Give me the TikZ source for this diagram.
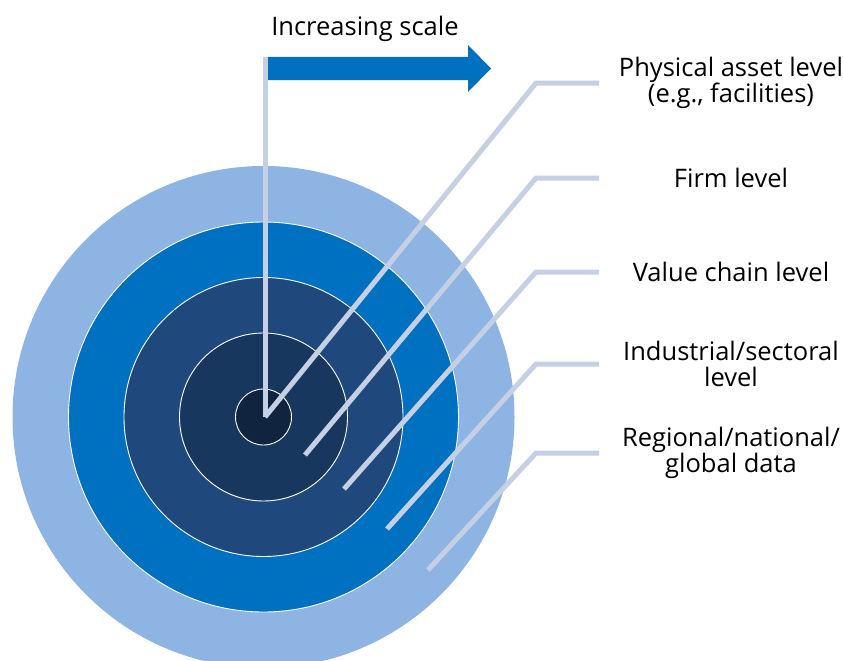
\documentclass[tikz,border=0pt]{standalone}
\usepackage{fontspec}
\setmainfont{Open Sans}
\usetikzlibrary{positioning}

\definecolor{ringA}{RGB}{142,180,227}
\definecolor{ringB}{RGB}{0,112,192}
\definecolor{ringC}{RGB}{31,73,125}
\definecolor{ringD}{RGB}{23,55,94}
\definecolor{ringE}{RGB}{16,36,63}
\definecolor{leadgray}{RGB}{197,208,228}

\begin{document}
\begin{tikzpicture}[x=1pt, y=-1pt]
    \tikzstyle{ring}=[draw=white, line width=0.9pt]
    \tikzstyle{leader}=[draw=leadgray, line width=5pt]
    \tikzstyle{level}=[align=center, inner sep=0pt, font=\fontsize{25.5}{25.5}\selectfont]

    \useasboundingbox (0,0) rectangle (843,661);

    \coordinate (centre) at (263.5,417);
    \coordinate (hub) at (265,417);
    \coordinate (bend) at (536,0);
    \coordinate (stop) at (599,0);

    % the target, outermost ring first
    \fill[ringA] (centre) circle[radius=251];
    \filldraw[ring, fill=ringB] (centre) circle[radius=195];
    \filldraw[ring, fill=ringC] (centre) circle[radius=139.5];
    \filldraw[ring, fill=ringD] (centre) circle[radius=84];
    \filldraw[ring, fill=ringE] (centre) circle[radius=28];

    % scale arrow
    \coordinate (scale0) at (268,57);
    \coordinate (scale1) at (491,68.5);
    \fill[ringB] (scale0) -- ++(200,0) -- ++(0,-12) -- (scale1)
        -- ++(-23,23.5) -- ++(0,-12) -- ++(-200,0) -- cycle;
    \node[level, anchor=base] (title) at (365,36) {Increasing scale};

    % labels
    \node[level] (phys) at (731,83) {Physical asset level\\(e.g., facilities)};
    \node[level, below of=phys, node distance=95pt] (firm) {Firm level};
    \node[level, below of=firm, node distance=94pt] (value) {Value chain level};
    \node[level, below of=value, node distance=92pt] (indus) {Industrial/sectoral\\level};
    \node[level, below of=indus, node distance=89pt] (region) {Regional/national/\\global data};

    \coordinate (t2) at (305,455);
    \coordinate (t3) at (344,489);
    \coordinate (t4) at (387,529);
    \coordinate (t5) at (428,570);

    \draw[leader] (hub) -- (hub |- scale0);
    \draw[leader] (hub) -- (bend |- phys) -- (stop |- phys);
    \draw[leader] (t2) -- (bend |- firm) -- (stop |- firm);
    \draw[leader] (t3) -- (bend |- value) -- (stop |- value);
    \draw[leader] (t4) -- (bend |- indus) -- (stop |- indus);
    \draw[leader] (t5) -- (bend |- region) -- (stop |- region);
\end{tikzpicture}
\end{document}
